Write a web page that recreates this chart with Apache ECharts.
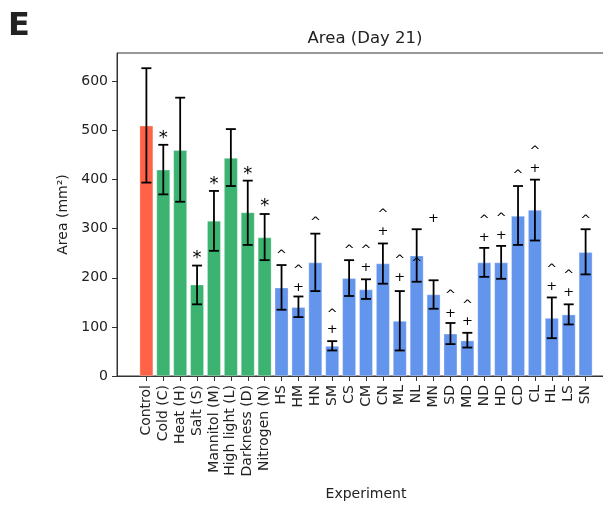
<!DOCTYPE html>
<html>
<head>
<meta charset="utf-8">
<script src="https://cdn.jsdelivr.net/npm/echarts@6/dist/echarts.min.js"></script>
<style>
html,body{margin:0;padding:0;background:#fff;}
#main{width:603px;height:505px;}
</style>
</head>
<body>
<div id="main"></div>
<script>
// ---- data ----
var categories = ['Control','Cold (C)','Heat (H)','Salt (S)','Mannitol (M)','High light (L)','Darkness (D)','Nitrogen (N)',
  'HS','HM','HN','SM','CS','CM','CN','ML','NL','MN','SD','MD','ND','HD','CD','CL','HL','LS','SN'];
var groups = ['control','single','single','single','single','single','single','single',
  'combo','combo','combo','combo','combo','combo','combo','combo','combo','combo','combo','combo','combo','combo','combo','combo','combo','combo','combo'];
var means = [510,420,460,186,316,444,333,282,
  180,140,231,61,199,176,229,112,245,166,86,72,231,231,326,338,118,125,252];
var errLow = [394,370,355,146,255,387,267,236,
  135,120,173,52,163,157,188,52,192,137,65,58,202,198,267,276,77,105,207];
var errHigh = [627,471,567,225,377,503,398,330,
  226,162,290,71,236,197,270,173,299,195,108,88,261,265,387,400,160,146,299];
// significance markers: [category index, value height]
var starMarks = [[1,493],[3,248],[4,398],[6,418],[7,353]];
var caretMarks = [[8,252],[9,221],[10,318],[11,132],[12,262],[13,262],[14,335],[15,242],[16,235],
  [18,169],[19,150],[20,322],[21,326],[22,414],[23,463],[24,222],[25,210],[26,323]];
var plusMarks = [[9,180],[11,94],[13,221],[14,294],[15,201],[17,321],[18,128],[19,110],[20,282],[21,285],
  [23,422],[24,182],[25,169]];
var yTicks = [0,100,200,300,400,500,600];

// ---- chart ----
var colors = {control:'#FF6347', single:'#3CB371', combo:'#6495ED'};
var idx = categories.map(function(_, i){ return i; });
var barData = means.map(function(v, i){ return [i, v]; });
var errData = means.map(function(v, i){ return [i, errLow[i], errHigh[i]]; });
var font = 'DejaVu Sans';

function markSeries(list, ch, size, dy){
  return {
    type:'custom', z:10,
    data: list.map(function(m){ return [m[0], m[1]]; }),
    renderItem: function(params, api){
      var p = api.coord([api.value(0), api.value(1)]);
      return {type:'text', style:{text:ch, x:p[0], y:p[1]+dy, align:'center', verticalAlign:'middle',
        fontSize:size, fontFamily:font, fill:'#000'}};
    }
  };
}

var chart = echarts.init(document.getElementById('main'));
chart.setOption({
  animation:false,
  backgroundColor:'#fff',
  textStyle:{fontFamily:font},
  graphic:[
    {type:'text', x:8, y:27, style:{text:'E', fontSize:32, fontWeight:'bold', fontFamily:font, fill:'#222', verticalAlign:'middle'}},
    {type:'text', x:365, y:39, style:{text:'Area (Day 21)', fontSize:16.5, fontFamily:font, fill:'#222', align:'center', verticalAlign:'middle'}}
  ],
  grid:{left:117, top:53, width:498, height:323, show:true, borderColor:'#333', borderWidth:1, backgroundColor:'transparent', outerBoundsMode:'none', containLabel:false},
  xAxis:{
    type:'value', min:-1.74, max:27.74,
    name:'Experiment', nameLocation:'middle', nameGap:111,
    nameTextStyle:{fontSize:14, color:'#222', fontFamily:font},
    axisLine:{show:true, onZero:false, lineStyle:{color:'#333', width:1}},
    axisTick:{show:true, length:5, lineStyle:{color:'#333'}, customValues:idx},
    axisLabel:{show:true, rotate:90, margin:9, fontSize:14, color:'#222', fontFamily:font, customValues:idx,
      formatter:function(v){ return categories[Math.round(v)]; }},
    splitLine:{show:false}
  },
  yAxis:{
    type:'value', min:0, max:658,
    name:'Area (mm²)', nameLocation:'middle', nameGap:44,
    nameTextStyle:{fontSize:14, color:'#222', fontFamily:font},
    axisLine:{show:true, onZero:false, lineStyle:{color:'#333', width:1}},
    axisTick:{show:true, length:5, lineStyle:{color:'#333'}, customValues:yTicks},
    axisLabel:{show:true, margin:9, fontSize:14, color:'#222', fontFamily:font, customValues:yTicks},
    splitLine:{show:false}
  },
  series:[
    {type:'bar', data:barData, barWidth:'80%',
      itemStyle:{color:function(p){ return colors[groups[p.dataIndex]]; }, borderColor:'rgba(255,255,255,0.6)', borderWidth:0.5}},
    {type:'custom', z:5, data:errData,
      renderItem:function(params, api){
        var x = api.value(0);
        var lo = api.coord([x, api.value(1)]);
        var hi = api.coord([x, api.value(2)]);
        var c = 5;
        var st = {stroke:'#000', lineWidth:1.8};
        return {type:'group', children:[
          {type:'line', shape:{x1:lo[0], y1:lo[1], x2:hi[0], y2:hi[1]}, style:st},
          {type:'line', shape:{x1:lo[0]-c, y1:lo[1], x2:lo[0]+c, y2:lo[1]}, style:st},
          {type:'line', shape:{x1:hi[0]-c, y1:hi[1], x2:hi[0]+c, y2:hi[1]}, style:st}
        ]};
      }},
    markSeries(starMarks, '*', 18, 4),
    markSeries(caretMarks, '^', 13, 3),
    markSeries(plusMarks, '+', 13, 0)
  ]
});
</script>
</body>
</html>
